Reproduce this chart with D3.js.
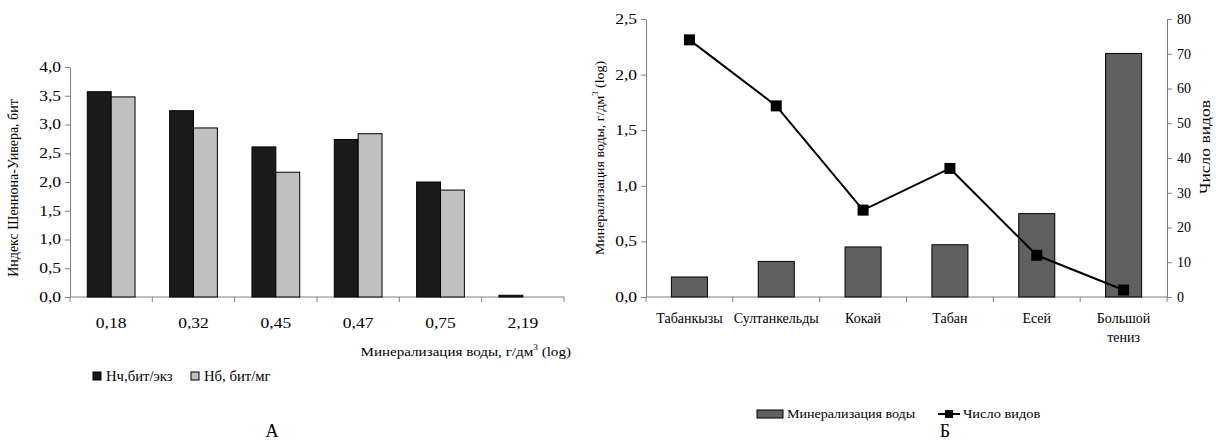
<!DOCTYPE html>
<html>
<head>
<meta charset="utf-8">
<script src="https://cdn.jsdelivr.net/npm/d3@7"></script>
<style>
  body { margin: 0; background: #fff; }
</style>
</head>
<body>
<div id="chart"></div>
<script>
// chart A
const mineral = ["0,18", "0,32", "0,45", "0,47", "0,75", "2,19"];
const hN = [3.57, 3.24, 2.61, 2.74, 2.00, 0.03];   // Нч, бит/экз
const hB = [3.48, 2.94, 2.17, 2.84, 1.86, 0];      // Нб, бит/мг
const yTicksA = [0, 0.5, 1, 1.5, 2, 2.5, 3, 3.5, 4];

// chart Б
const lakes = ["Табанкызы", "Султанкельды", "Кокай", "Табан", "Есей", "Большой тениз"];
const mineralB = [0.18, 0.32, 0.45, 0.47, 0.75, 2.19];
const species = [74, 55, 25, 37, 12, 2];
const yTicksB = [0, 0.5, 1, 1.5, 2, 2.5];
const yTicksR = [0, 10, 20, 30, 40, 50, 60, 70, 80];

const fmt = d3.format(".1f");
const comma = v => fmt(v).replace(".", ",");
const FONT = '"Liberation Serif", "Times New Roman", serif';

const svg = d3.select("#chart").append("svg")
    .attr("width", 1216)
    .attr("height", 446)
    .style("font-family", FONT);

const axisColor = "#808080";

// the scanned figure has its type a bit wider than normal
function stretch(sel, k) {
  sel.each(function() {
    const len = this.getComputedTextLength();
    this.setAttribute("textLength", len * k);
    this.setAttribute("lengthAdjust", "spacingAndGlyphs");
  });
}

function styleAxis(g) {
  g.attr("font-family", null);
  g.selectAll("path, line").attr("stroke", axisColor);
  g.selectAll("text").attr("fill", "#000").style("font-family", FONT);
}

////// chart A
{
  const left = 70, right = 564, top = 67, bottom = 297;
  const x = d3.scaleBand().domain(mineral).range([left, right]).paddingInner(0.42).paddingOuter(0.21);
  const y = d3.scaleLinear().domain([0, 4]).range([bottom, top]);
  const sub = d3.scaleBand().domain(["n", "b"]).range([0, x.bandwidth()]);

  const g = svg.append("g");

  // x-axis tick marks sit at category borders
  const step = (right - left) / mineral.length;
  g.append("line").attr("x1", left).attr("x2", right).attr("y1", bottom).attr("y2", bottom)
      .attr("stroke", axisColor);
  g.selectAll(".xt").data(d3.range(mineral.length + 1)).join("line")
      .attr("x1", i => left + i * step).attr("x2", i => left + i * step)
      .attr("y1", bottom).attr("y2", bottom + 5)
      .attr("stroke", axisColor);
  g.selectAll(".xl").data(mineral).join("text")
      .attr("x", d => x(d) + x.bandwidth() / 2)
      .attr("y", bottom + 31)
      .attr("text-anchor", "middle")
      .attr("font-size", 14)
      .text(d => d)
      .call(stretch, 1.25);

  g.append("g")
      .attr("transform", `translate(${left},0)`)
      .call(d3.axisLeft(y).tickValues(yTicksA).tickFormat(comma).tickSize(5).tickPadding(4).tickSizeOuter(0))
      .call(styleAxis)
      .call(g => g.selectAll("text").attr("font-size", 14).call(stretch, 1.25));

  g.append("g").selectAll("rect").data(hN).join("rect")
      .attr("x", (d, i) => x(mineral[i]) + sub("n"))
      .attr("y", d => y(d))
      .attr("width", sub.bandwidth())
      .attr("height", d => bottom - y(d))
      .attr("fill", "#1a1a1a")
      .attr("stroke", "#000");

  g.append("g").selectAll("rect").data(hB).join("rect")
      .filter(d => d > 0)
      .attr("x", (d, i) => x(mineral[i]) + sub("b"))
      .attr("y", d => y(d))
      .attr("width", sub.bandwidth())
      .attr("height", d => bottom - y(d))
      .attr("fill", "#c0c0c0")
      .attr("stroke", "#000");

  g.append("text")
      .attr("transform", `translate(18,${(top + bottom) / 2 + 6}) rotate(-90)`)
      .attr("text-anchor", "middle")
      .attr("font-size", 14)
      .text("Индекс Шеннона-Уивера, бит");

  const xt = g.append("text")
      .attr("x", 571).attr("y", 356)
      .attr("text-anchor", "end")
      .attr("font-size", 13);
  xt.append("tspan").text("Минерализация воды, г/дм");
  xt.append("tspan").attr("dy", -6).attr("font-size", 8).text("3");
  xt.append("tspan").attr("dy", 6).text(" (log)");
  xt.call(stretch, 1.16);

  // legend
  const leg = g.append("g").attr("transform", "translate(93,376)");
  const items = [["Нч,бит/экз", "#1a1a1a", 0], ["Нб, бит/мг", "#c0c0c0", 98]];
  items.forEach(([t, c, dx]) => {
    leg.append("rect").attr("x", dx).attr("y", -4).attr("width", 8).attr("height", 8)
        .attr("fill", c).attr("stroke", "#000");
    leg.append("text").attr("x", dx + 13).attr("y", 5).attr("font-size", 14).text(t)
        .call(stretch, 1.05);
  });

  g.append("text").attr("x", 272).attr("y", 437).attr("text-anchor", "middle")
      .attr("font-size", 18).text("А");
}

////// chart Б
{
  const left = 646, right = 1167, top = 19, bottom = 297;
  const x = d3.scaleBand().domain(lakes).range([left, right]).paddingInner(0.585).paddingOuter(0.2925);
  const y = d3.scaleLinear().domain([0, 2.5]).range([bottom, top]);
  const y2 = d3.scaleLinear().domain([0, 80]).range([bottom, top]);

  const g = svg.append("g");
  const step = (right - left) / lakes.length;

  g.append("line").attr("x1", left).attr("x2", right).attr("y1", bottom).attr("y2", bottom)
      .attr("stroke", axisColor);
  g.selectAll(".xt").data(d3.range(lakes.length + 1)).join("line")
      .attr("x1", i => left + i * step).attr("x2", i => left + i * step)
      .attr("y1", bottom).attr("y2", bottom + 5)
      .attr("stroke", axisColor);

  g.selectAll(".xl").data(lakes).join("text")
      .attr("text-anchor", "middle")
      .attr("font-size", 14)
      .each(function(d) {
        const cx = x(d) + x.bandwidth() / 2;
        const words = d.split(" ");
        d3.select(this).selectAll("tspan").data(words).join("tspan")
            .attr("x", cx)
            .attr("y", (w, i) => bottom + 26 + i * 19)
            .text(w => w);
      });

  g.append("g")
      .attr("transform", `translate(${left},0)`)
      .call(d3.axisLeft(y).tickValues(yTicksB).tickFormat(comma).tickSize(5).tickPadding(4).tickSizeOuter(0))
      .call(styleAxis)
      .call(g => g.selectAll("text").attr("font-size", 14).call(stretch, 1.25));

  g.append("g")
      .attr("transform", `translate(${right},0)`)
      .call(d3.axisRight(y2).tickValues(yTicksR).tickSize(5).tickPadding(5).tickSizeOuter(0))
      .call(styleAxis)
      .call(g => g.selectAll("text").attr("font-size", 14));

  g.append("g").selectAll("rect").data(mineralB).join("rect")
      .attr("x", (d, i) => x(lakes[i]))
      .attr("y", d => y(d))
      .attr("width", x.bandwidth())
      .attr("height", d => bottom - y(d))
      .attr("fill", "#606060")
      .attr("stroke", "#000");

  const line = d3.line()
      .x((d, i) => x(lakes[i]) + x.bandwidth() / 2)
      .y(d => y2(d));

  g.append("path").datum(species)
      .attr("d", line)
      .attr("fill", "none")
      .attr("stroke", "#000")
      .attr("stroke-width", 2);

  g.append("g").selectAll("rect").data(species).join("rect")
      .attr("x", (d, i) => x(lakes[i]) + x.bandwidth() / 2 - 5.5)
      .attr("y", d => y2(d) - 5.5)
      .attr("width", 11).attr("height", 11)
      .attr("fill", "#000");

  const yt = g.append("text")
      .attr("transform", `translate(604,${(top + bottom) / 2}) rotate(-90)`)
      .attr("text-anchor", "middle")
      .attr("font-size", 13);
  yt.append("tspan").text("Минерализация воды, г/дм");
  yt.append("tspan").attr("dy", -6).attr("font-size", 8).text("3");
  yt.append("tspan").attr("dy", 6).text(" (log)");
  yt.call(stretch, 1.07);

  g.append("text")
      .attr("transform", `translate(1210,${(top + bottom) / 2 - 11}) rotate(-90)`)
      .attr("text-anchor", "middle")
      .attr("font-size", 14)
      .text("Число видов")
      .call(stretch, 1.25);

  // legend
  const leg = g.append("g").attr("transform", "translate(757,414)");
  leg.append("rect").attr("x", 0).attr("y", -4).attr("width", 26).attr("height", 8)
      .attr("fill", "#606060").attr("stroke", "#000");
  leg.append("text").attr("x", 30).attr("y", 4).attr("font-size", 12).text("Минерализация воды")
      .call(stretch, 1.17);
  leg.append("line").attr("x1", 181).attr("x2", 203).attr("y1", 0).attr("y2", 0)
      .attr("stroke", "#000").attr("stroke-width", 2);
  leg.append("rect").attr("x", 188).attr("y", -4).attr("width", 8).attr("height", 8).attr("fill", "#000");
  leg.append("text").attr("x", 206).attr("y", 4).attr("font-size", 12).text("Число видов")
      .call(stretch, 1.2);

  g.append("text").attr("x", 945).attr("y", 437).attr("text-anchor", "middle")
      .attr("font-size", 18).text("Б");
}
</script>
</body>
</html>
